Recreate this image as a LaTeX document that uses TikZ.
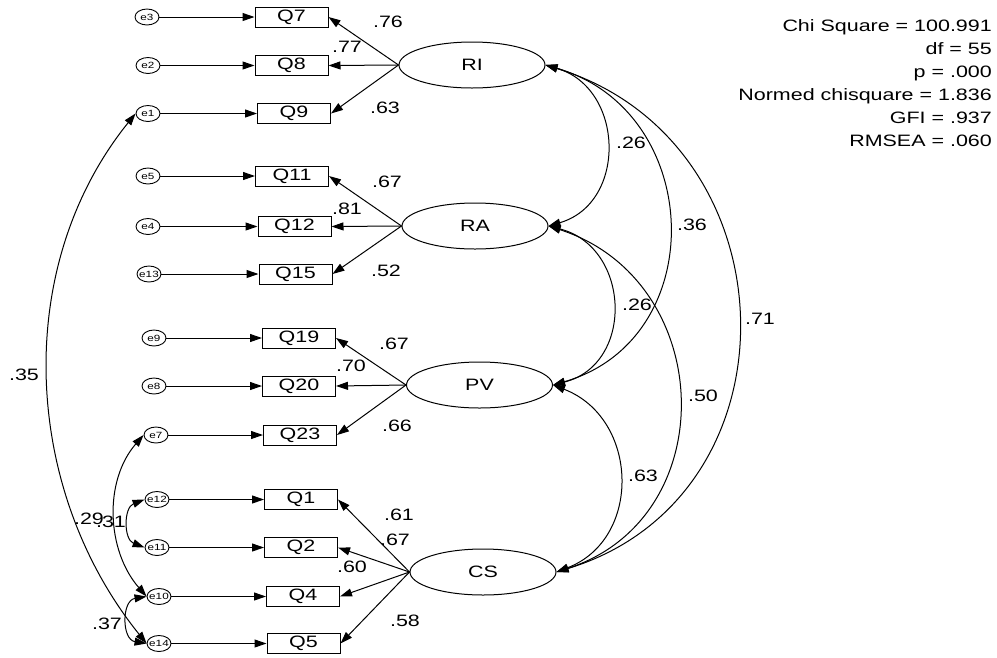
\documentclass[tikz,border=0pt]{standalone}
\usepackage{fontspec}
\setmainfont{Liberation Sans}[FakeStretch=1.3]
\usetikzlibrary{shapes.geometric,arrows.meta}
\begin{document}
\begin{tikzpicture}[x=1pt,y=-1pt,
  every node/.style={inner sep=0pt},
  obs/.style={draw, line width=1pt, minimum width=73pt, minimum height=20pt, font=\fontsize{16.5}{19}\selectfont},
  err/.style={draw, ellipse, line width=0.9pt, minimum width=24pt, minimum height=16pt, inner sep=-1.5pt, font=\fontsize{9}{10}\selectfont},
  lat/.style={draw, ellipse, line width=1pt, minimum width=146pt, minimum height=46pt, font=\fontsize{16.5}{19}\selectfont},
  lbl/.style={font=\fontsize{16.5}{19}\selectfont},
  stat/.style={anchor=base east, font=\fontsize{16.5}{19}\selectfont},
  conn/.style={line width=1pt, -{Triangle[length=12pt,width=8pt]}},
  cov/.style={line width=1pt, {Triangle[length=12pt,width=8pt]}-{Triangle[length=12pt,width=8pt]}},
]
\useasboundingbox (0,0) rectangle (997,657);

% observed
\node[obs] (Q7)  at (291.5,17)  {Q7};
\node[obs] (Q8)  at (291.5,65.5){Q8};
\node[obs] (Q9)  at (294,113.5) {Q9};
\node[obs] (Q11) at (292,176)   {Q11};
\node[obs] (Q12) at (294.5,226.5){Q12};
\node[obs] (Q15) at (295.5,274) {Q15};
\node[obs] (Q19) at (299,338)   {Q19};
\node[obs] (Q20) at (299,386)   {Q20};
\node[obs] (Q23) at (300,435)   {Q23};
\node[obs] (Q1)  at (301,499.5) {Q1};
\node[obs] (Q2)  at (301,547.5) {Q2};
\node[obs] (Q4)  at (303,596.5) {Q4};
\node[obs] (Q5)  at (303.5,643.5){Q5};

% errors
\node[err] (e3)  at (147,17)    {e3};
\node[err] (e2)  at (148,65.5)  {e2};
\node[err] (e1)  at (148,113.5) {e1};
\node[err] (e5)  at (148,176)   {e5};
\node[err] (e4)  at (148,226.5) {e4};
\node[err] (e13) at (149,274)   {e13};
\node[err] (e9)  at (154,338)   {e9};
\node[err] (e8)  at (154,386)   {e8};
\node[err] (e7)  at (156,435)   {e7};
\node[err] (e12) at (157,499.5) {e12};
\node[err] (e11) at (157,547.5) {e11};
\node[err] (e10) at (159,596.5) {e10};
\node[err] (e14) at (159,643.5) {e14};

% latent
\node[lat] (RI) at (472,65)  {RI};
\node[lat] (RA) at (475,226) {RA};
\node[lat] (PV) at (479.5,385) {PV};
\node[lat] (CS) at (483,572) {CS};

% error arrows
\foreach \e/\q in {e3/Q7,e2/Q8,e1/Q9,e5/Q11,e4/Q12,e13/Q15,e9/Q19,e8/Q20,e7/Q23,e12/Q1,e11/Q2,e10/Q4,e14/Q5}
  \draw[conn] (\e.east) -- (\q.west);

% loadings
\foreach \l/\q in {RI/Q7,RI/Q8,RI/Q9,RA/Q11,RA/Q12,RA/Q15,PV/Q19,PV/Q20,PV/Q23,CS/Q1,CS/Q2,CS/Q4,CS/Q5}
  \draw[conn] (\l.west) -- (\q.east);

% latent covariances
\draw[cov] (RI.east) .. controls +(79,23) and +(79,-23) .. (RA.east);
\draw[cov] (RI.east) .. controls +(159,46) and +(159,-46) .. (PV.east);
\draw[cov] (RI.east) .. controls +(249,76) and +(249,-76) .. (CS.east);
\draw[cov] (RA.east) .. controls +(82,21) and +(82,-21) .. (PV.east);
\draw[cov] (RA.east) .. controls +(168,54) and +(168,-54) .. (CS.east);
\draw[cov] (PV.east) .. controls +(86,33) and +(86,-33) .. (CS.east);

% error covariances
\draw[cov] (e1.west) .. controls +(-124,154) and +(-124,-154) .. (e14.west);
\draw[cov] (e7.west) .. controls +(-40,46) and +(-40,-46) .. (e10.west);
\draw[cov] (e12.west) .. controls +(-21,8) and +(-21,-8) .. (e11.west);
\draw[cov] (e10.west) .. controls +(-25,4) and +(-25,-4) .. (e14.west);

% labels
\node[lbl] (l1) at (388,22) {.76};
\node[lbl] (l2) at (347,47) {.77};
\node[lbl] (l3) at (385,108) {.63};
\node[lbl] (l4) at (387,182) {.67};
\node[lbl] (l5) at (347,209) {.81};
\node[lbl] (l6) at (386,271) {.52};
\node[lbl] (l7) at (394,344) {.67};
\node[lbl] (l8) at (351,366) {.70};
\node[lbl] (l9) at (397,426) {.66};
\node[lbl] (l10) at (399,515) {.61};
\node[lbl] (l11) at (395,540) {.67};
\node[lbl] (l12) at (352,567) {.60};
\node[lbl] (l13) at (405,621) {.58};
\node[lbl] (l14) at (89,519) {.29};
\node[lbl] (l15) at (111,522) {.31};
\node[lbl] (l16) at (107,624) {.37};
\node[lbl] (l17) at (24,375) {.35};
\node[lbl] (l18) at (631,143) {.26};
\node[lbl] (l19) at (692,225) {.36};
\node[lbl] (l20) at (637,305) {.26};
\node[lbl] (l21) at (760,319) {.71};
\node[lbl] (l22) at (703,396) {.50};
\node[lbl] (l23) at (643,476) {.63};

% fit statistics
\node[stat] (s1) at (992,31.5) {Chi Square = 100.991};
\node[stat] (s2) at (992,54.5) {df = 55};
\node[stat] (s3) at (992,77.5) {p = .000};
\node[stat] (s4) at (992,100.5) {Normed chisquare = 1.836};
\node[stat] (s5) at (992,123.5) {GFI = .937};
\node[stat] (s6) at (992,146.5) {RMSEA = .060};
\end{tikzpicture}
\end{document}
